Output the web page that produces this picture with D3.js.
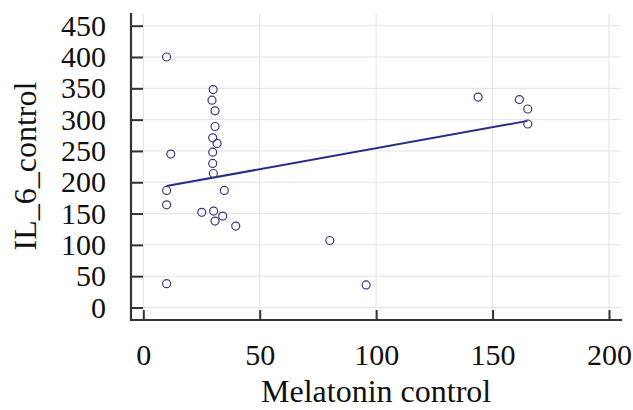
<!DOCTYPE html>
<html>
<head>
<meta charset="utf-8">
<script src="https://cdn.jsdelivr.net/npm/d3@7"></script>
<style>
  html, body { margin: 0; padding: 0; background: #fff; }
  svg { display: block; }
  svg text { font-family: 'Liberation Serif', 'Times New Roman', serif; fill: #111; }
</style>
</head>
<body>
<svg id="chart" width="633" height="410"></svg>
<script>
// Data
const melatonin = [10, 30, 29.5, 30.8, 30.8, 29.8, 31.7, 29.8, 29.8, 30.1, 11.8, 10, 34.8, 10,
                   25.1, 30.2, 30.8, 34.1, 39.7, 10, 143.8, 161.5, 165.1, 165.1, 80.1, 95.7];
const il6 = [400, 348, 331, 314, 289, 271, 262, 248, 230, 214, 245, 187, 187, 164,
             152, 154, 138, 146, 130, 38, 336, 332, 317, 293, 107, 36];
const fitX = [10, 165];
const fitY = [194, 298];
const xTicks = [0, 50, 100, 150, 200];
const yTicks = [0, 50, 100, 150, 200, 250, 300, 350, 400, 450];
const xTitle = "Melatonin control";
const yTitle = "IL_6_control";

(function () {
const svg = d3.select("#chart");
const pLeft = 131, pRight = 621, pTop = 14, pBottom = 320;
const serif = "'Liberation Serif', 'Times New Roman', serif";

const x = d3.scaleLinear().domain([0, 200]).range([143.3, 609]);
const y = d3.scaleLinear().domain([0, 450]).range([307.5, 25.7]);

// gridlines
const grid = svg.append("g").attr("stroke", "#e3e3e3").attr("stroke-width", 1);
grid.selectAll(".gx").data(xTicks).join("line").attr("class", "gx")
  .attr("x1", d => x(d)).attr("x2", d => x(d)).attr("y1", pTop).attr("y2", pBottom);
grid.selectAll(".gy").data(yTicks).join("line").attr("class", "gy")
  .attr("x1", pLeft).attr("x2", pRight).attr("y1", d => y(d)).attr("y2", d => y(d));

// axes
const xAxis = d3.axisBottom(x).tickValues(xTicks).tickSize(-10).tickPadding(24).tickSizeOuter(0);
const yAxis = d3.axisLeft(y).tickValues(yTicks).tickSize(-12).tickPadding(25).tickSizeOuter(0);

const gx = svg.append("g").attr("transform", `translate(0,${pBottom})`).call(xAxis);
gx.select(".domain").remove();
const gy = svg.append("g").attr("transform", `translate(${pLeft},0)`).call(yAxis);
gy.select(".domain").remove();

[gx, gy].forEach(g => {
  g.attr("font-family", serif).attr("font-size", 30);
  g.selectAll(".tick line").attr("stroke", "#333").attr("stroke-width", 2);
  g.selectAll(".tick text").style("font-size", "30px").attr("fill", "#111");
});

// axis lines
svg.append("line").attr("x1", pLeft).attr("x2", pLeft).attr("y1", pTop - 1).attr("y2", pBottom + 1)
  .attr("stroke", "#333").attr("stroke-width", 2.2);
svg.append("line").attr("x1", pLeft - 1).attr("x2", pRight + 1).attr("y1", pBottom).attr("y2", pBottom)
  .attr("stroke", "#333").attr("stroke-width", 2.2);

// fit line
svg.append("line")
  .attr("x1", x(fitX[0])).attr("y1", y(fitY[0]))
  .attr("x2", x(fitX[1])).attr("y2", y(fitY[1]))
  .attr("stroke", "#2b2b86").attr("stroke-width", 2);

// points
svg.append("g").selectAll("circle").data(melatonin.map((m, i) => [m, il6[i]])).join("circle")
  .attr("cx", d => x(d[0])).attr("cy", d => y(d[1])).attr("r", 4)
  .attr("fill", "none").attr("stroke", "#3a3a7c").attr("stroke-width", 1.2);

// titles
svg.append("text").attr("x", (x(0) + x(200)) / 2).attr("y", 402)
  .attr("text-anchor", "middle").style("font-size", "32px").text(xTitle);
svg.append("text").attr("transform", "translate(36,166) rotate(-90)")
  .attr("text-anchor", "middle").style("font-size", "32px").text(yTitle);
})();
</script>
</body>
</html>
